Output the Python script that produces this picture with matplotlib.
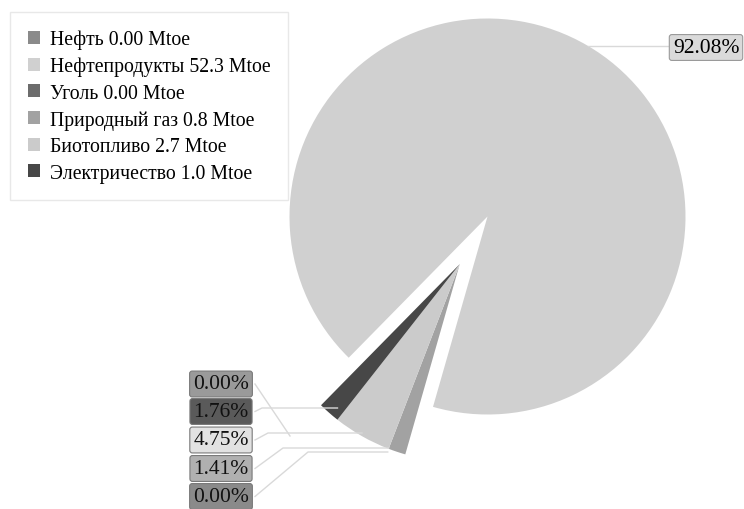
import numpy as np
import matplotlib.pyplot as plt

plt.rcParams['font.family'] = ['Liberation Serif', 'DejaVu Serif']

names = ['Нефть', 'Нефтепродукты', 'Уголь', 'Природный газ', 'Биотопливо', 'Электричество']
mtoe = [0.0, 52.3, 0.0, 0.8, 2.7, 1.0]
mtoe_txt = ['0.00', '52.3', '0.00', '0.8', '2.7', '1.0']
colors = ['#8a8a8a', '#d0d0d0', '#6c6c6c', '#a2a2a2', '#cbcbcb', '#474747']

total = sum(mtoe)
pct = [v / total * 100 for v in mtoe]

W, H = 744, 510
fig = plt.figure(figsize=(W / 100, H / 100), dpi=100)
ax = fig.add_axes([0, 0, 1, 1])

cx, cy, r = 487.5, H - 217.5, 198
wedges, _ = ax.pie(mtoe, colors=colors, startangle=225.5, counterclock=False,
                   radius=r, center=(cx, cy), frame=True,
                   wedgeprops=dict(linewidth=0))
ax.set_xlim(0, W)
ax.set_ylim(0, H)
ax.set_aspect('equal')
ax.axis('off')

# the small slices are pulled out together, sharing one apex
small = [3, 4, 5]
lo = min(wedges[i].theta1 for i in small)
hi = max(wedges[i].theta2 for i in small)
mid = np.deg2rad((lo + hi) / 2)
dist = 55
ax_, ay_ = cx + dist * np.cos(mid), cy + dist * np.sin(mid)
for i in small:
    wedges[i].set_center((ax_, ay_))

def arc_pt(i, ang):
    a = np.deg2rad(ang)
    x0, y0 = wedges[i].center
    return x0 + r * np.cos(a), y0 + r * np.sin(a)

line_c = '#d9d9d9'
lab_fs = 15.5
box = dict(boxstyle='round,pad=0.16,rounding_size=0.12', ec='#7a7a7a', lw=0.8)

# big label
ly = H - 47
lx = cx + np.sqrt(r ** 2 - (ly - cy) ** 2)
ax.plot([lx, 668], [ly, ly], color=line_c, lw=1)
ax.text(706, H - 48.5, f'{pct[1]:.2f}%', ha='center', va='center', fontsize=lab_fs,
        bbox=dict(box, fc='#dadada', ec='#9a9a9a'))

# left labels
ends = {
    0: (290, H - 437),
    5: arc_pt(5, wedges[5].theta2),
    4: arc_pt(4, (wedges[4].theta1 + wedges[4].theta2) / 2),
    3: arc_pt(3, wedges[3].theta1),
    2: arc_pt(3, wedges[3].theta1 - 0.3),
}
label_y = {0: 385, 5: 412.5, 4: 441, 3: 469.5, 2: 497.5}
elbow_y = {0: 437, 5: 409, 4: 434, 3: 449, 2: 453}
elbow_x = {0: 290, 5: 262, 4: 268, 3: 283, 2: 308}
box_fc = {0: '#9a9a9a', 5: '#5a5a5a', 4: '#e2e2e2', 3: '#b0b0b0', 2: '#8a8a8a'}

for i in [0, 5, 4, 3, 2]:
    y = H - label_y[i]
    ex, ey = ends[i]
    xs = [255, elbow_x[i], ex]
    ys = [y, H - elbow_y[i], H - elbow_y[i]]
    ax.plot(xs, ys, color=line_c, lw=1, zorder=1)
    ax.text(221, y, f'{pct[i]:.2f}%', ha='center', va='center', fontsize=lab_fs,
            color='#111111', bbox=dict(box, fc=box_fc[i]))

labels = [f'{n} {t} Mtoe' for n, t in zip(names, mtoe_txt)]
leg = ax.legend(wedges, labels, loc='upper left', bbox_to_anchor=(10 / W, 1 - 13 / H),
                bbox_transform=fig.transFigure, fontsize=14.2, frameon=True,
                fancybox=False, edgecolor='#e3e3e3', handlelength=0.62,
                handleheight=0.62, handletextpad=0.5, labelspacing=0.38,
                borderpad=0.9, borderaxespad=0)
leg.get_frame().set_linewidth(1)

fig.savefig('out.png', dpi=100)
